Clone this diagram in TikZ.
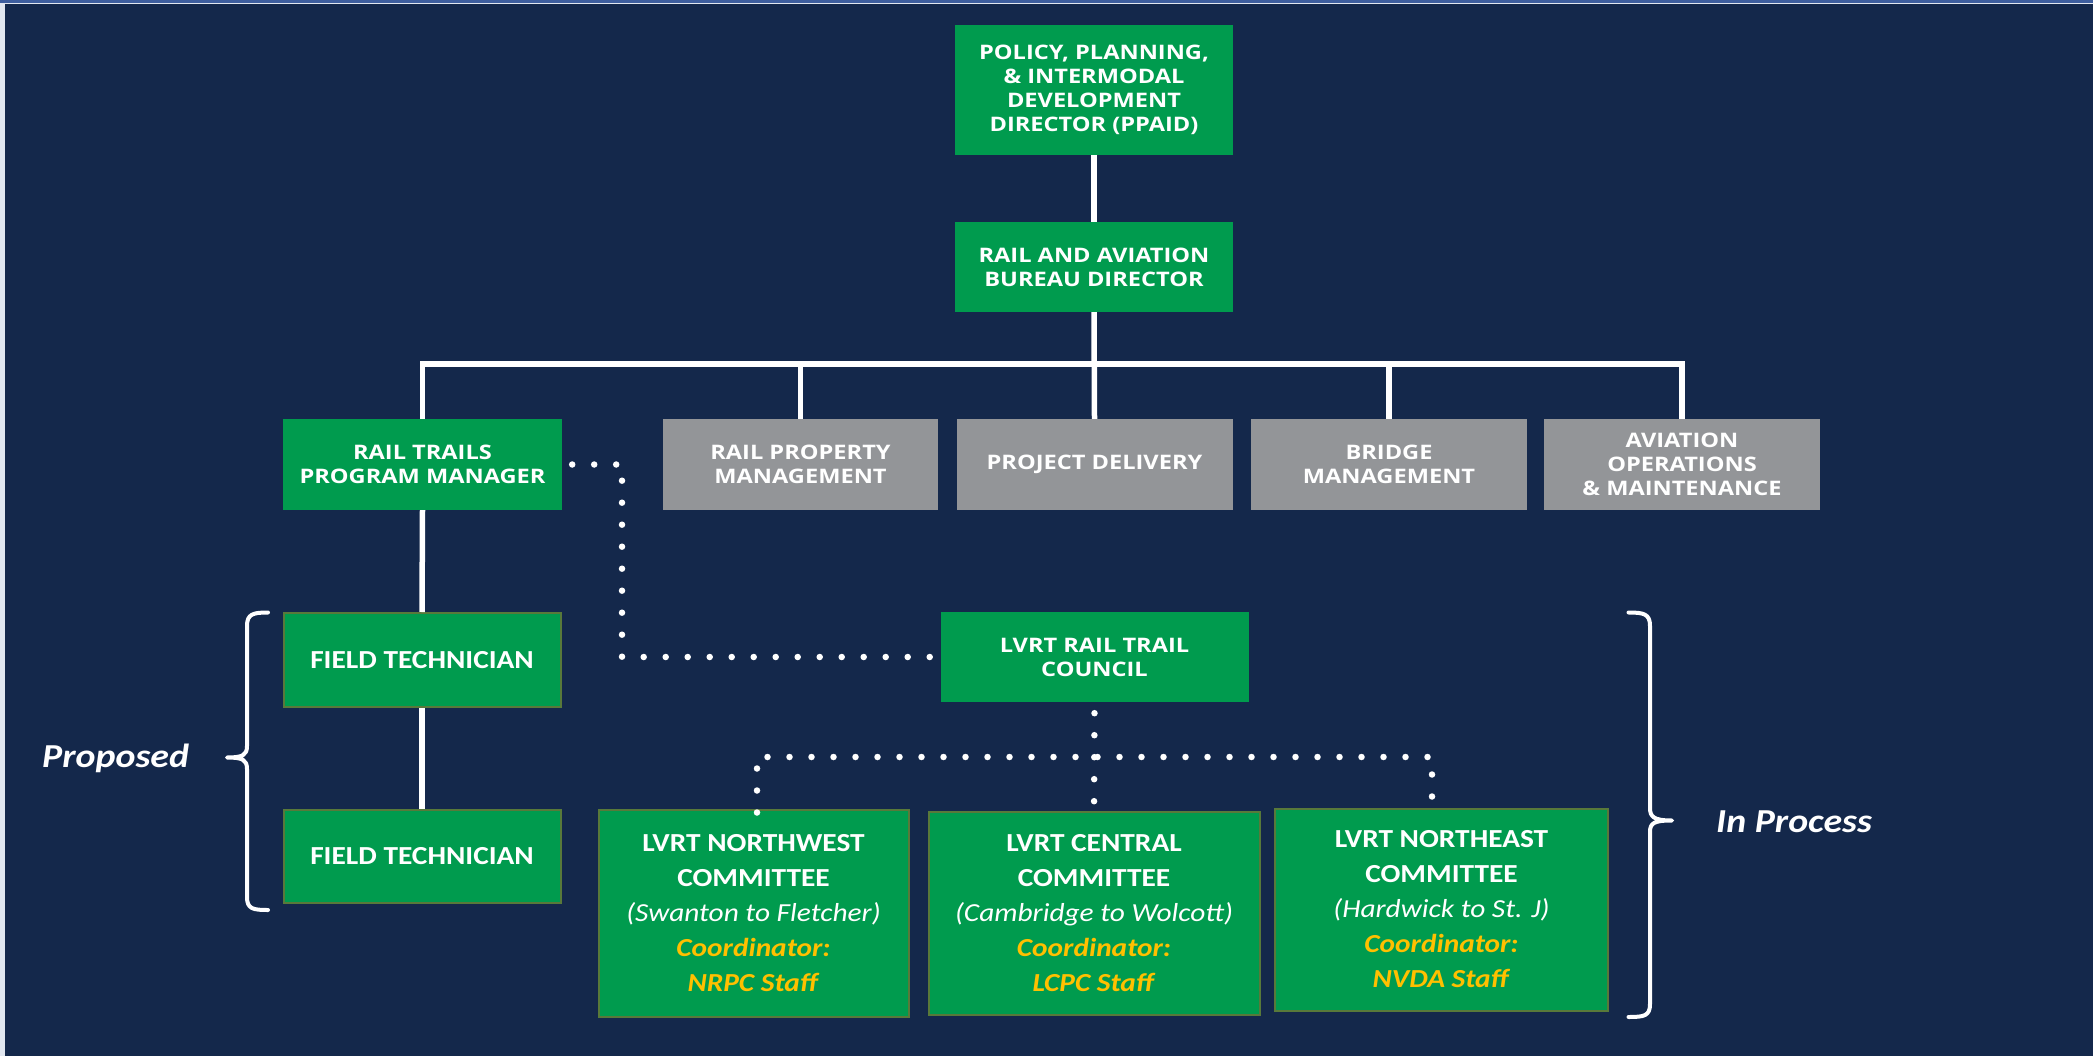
\documentclass[tikz,border=0pt]{standalone}
\usepackage{fontspec}
\setmainfont{Carlito}[FakeStretch=1.13]
\newfontfamily\osans{Open Sans}[FakeStretch=1.18]
\definecolor{navy}{HTML}{14284B}
\definecolor{topblue}{HTML}{3E5E9E}
\definecolor{grn}{HTML}{009B4E}
\definecolor{grayc}{HTML}{939598}
\definecolor{gold}{HTML}{FFC000}
\definecolor{olive}{HTML}{58793A}
\begin{document}
\begin{tikzpicture}[x=1pt,y=-1pt,
  gbox/.style={fill=grn, text=white, inner sep=0pt, align=center,
    font=\osans\bfseries\fontsize{20}{24}\selectfont},
  graybox/.style={gbox, fill=grayc},
  fbox/.style={fill=grn, draw=olive, line width=2pt, text=white, inner sep=0pt,
    align=center, font=\fontsize{26}{35}\selectfont},
  solidline/.style={draw=white, line width=5.5pt, line join=miter},
  dotline/.style={draw=white, line width=6.5pt, line cap=round, dash pattern=on 0pt off 22pt},
  bracketline/.style={draw=white, line width=4pt, line cap=round, line join=round},
  side/.style={text=white, inner sep=0pt, font=\fontsize{33.5}{40}\selectfont\bfseries\itshape}
]
\useasboundingbox (0,0) rectangle (2093,1056);
\fill[navy] (0,0) rectangle (2093,1056);
\fill[topblue] (0,0) rectangle (2093,3);
\fill[white!85!topblue] (0,3) rectangle (2093,4.5);
\fill[white!85!topblue] (0,3) rectangle (4.5,1056);

% top boxes
\node[gbox, minimum width=278, minimum height=130] (ppaid) at (1094,90)
  {POLICY, PLANNING,\\\& INTERMODAL\\DEVELOPMENT\\DIRECTOR (PPAID)};
\node[gbox, minimum width=278, minimum height=90] (bureau) at (1094,267)
  {RAIL AND AVIATION\\BUREAU DIRECTOR};

% second row
\node[gbox, minimum width=279, minimum height=91] (rtpm) at (422.5,464.5)
  {RAIL TRAILS\\PROGRAM MANAGER};
\node[graybox, minimum width=275, minimum height=91] (rpm) at (800.5,464.5)
  {RAIL PROPERTY\\MANAGEMENT};
\node[graybox, minimum width=276, minimum height=91] (pd) at (1094.5,464.5)
  {PROJECT DELIVERY};
\node[graybox, minimum width=276, minimum height=91] (bridge) at (1389,464.5)
  {BRIDGE\\MANAGEMENT};
\node[graybox, minimum width=276, minimum height=91] (av) at (1682,464.5)
  {AVIATION\\OPERATIONS\\\& MAINTENANCE};

% field technicians
\node[fbox, minimum width=277, minimum height=94] (ft1) at (422,660)
  {\textbf{FIELD TECHNICIAN}};
\node[fbox, minimum width=277, minimum height=93] (ft2) at (422,856.5)
  {\textbf{FIELD TECHNICIAN}};

% council
\node[gbox, minimum width=308, minimum height=90] (council) at (1094.5,657)
  {LVRT RAIL TRAIL\\COUNCIL};

% committees
\node[fbox, minimum width=310, minimum height=207] (nw) at (753.5,913)
  {\textbf{LVRT NORTHWEST}\\\textbf{COMMITTEE}\\\textit{(Swanton to Fletcher)}\\
   \textcolor{gold}{\textbf{\textit{Coordinator:}}}\\\textcolor{gold}{\textbf{\textit{NRPC Staff}}}};
\node[fbox, minimum width=331, minimum height=203] (cen) at (1094,913.5)
  {\textbf{LVRT CENTRAL}\\\textbf{COMMITTEE}\\\textit{(Cambridge to Wolcott)}\\
   \textcolor{gold}{\textbf{\textit{Coordinator:}}}\\\textcolor{gold}{\textbf{\textit{LCPC Staff}}}};
\node[fbox, minimum width=333, minimum height=202] (ne) at (1441.5,909.5)
  {\textbf{LVRT NORTHEAST}\\\textbf{COMMITTEE}\\\textit{(Hardwick to St. J)}\\
   \textcolor{gold}{\textbf{\textit{Coordinator:}}}\\\textcolor{gold}{\textbf{\textit{NVDA Staff}}}};

% side labels
\node[side, anchor=base west] (prop) at (42,767) {Proposed};
\node[side, anchor=base west] (inproc) at (1716,832) {In Process};

% solid connectors
\coordinate (bar) at (1094,364);
\draw[solidline] (ppaid.south) -- (bureau.north);
\draw[solidline] (bureau.south) -- (pd.north);
\draw[solidline] (rtpm.north) -- (rtpm.north |- bar) -- (av.north |- bar) -- (av.north);
\draw[solidline] (rpm.north) -- (rpm.north |- bar);
\draw[solidline] (bridge.north) -- (bridge.north |- bar);
\draw[solidline] (rtpm.south) -- (ft1.north);
\draw[solidline] (ft1.south) -- (ft2.north);

% dotted connectors
\coordinate (dk) at (622,464.5);
\draw[dotline] ([xshift=10pt]rtpm.east) -- (dk) -- (dk |- council.west) -- ([xshift=-10pt]council.west);
\coordinate (hl) at (757,757);
\coordinate (hr) at (1432,757);
\draw[dotline] ([yshift=-11pt]council.south) -- ([yshift=-4pt]cen.north);
\draw[dotline] ([yshift=-4pt]hl |- nw.north) -- (hl) -- (hr) -- ([yshift=-4pt]hr |- ne.north);

% brackets
\draw[bracketline] (268,612.5) .. controls (253,612.5) and (247,614) .. (247,626)
  -- (247,746) .. controls (247,755) and (243,757.5) .. (227,757.5)
  .. controls (243,757.5) and (247,760) .. (247,769)
  -- (247,897) .. controls (247,909) and (253,910) .. (268,910);
\draw[bracketline] (1628.5,612.5) .. controls (1644,612.5) and (1650,614) .. (1650,626)
  -- (1650,808) .. controls (1650,817) and (1654,820.5) .. (1672,820.5)
  .. controls (1654,820.5) and (1650,823) .. (1650,832)
  -- (1650,1004) .. controls (1650,1016) and (1644,1017) .. (1628.5,1017);
\end{tikzpicture}
\end{document}
